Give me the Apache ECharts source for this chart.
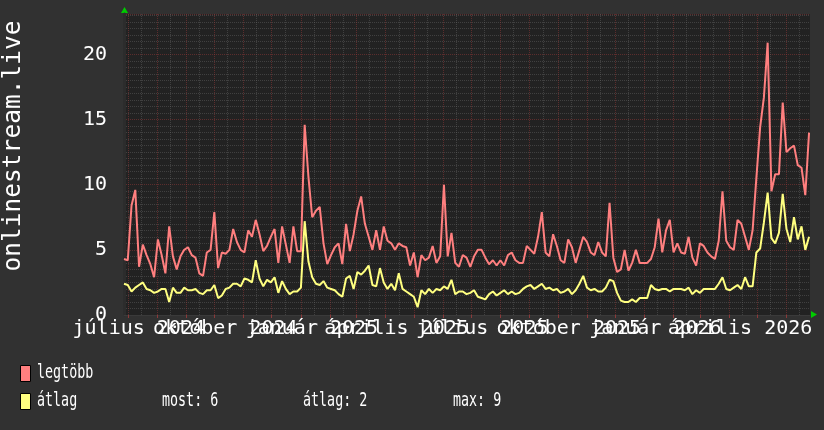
<!DOCTYPE html>
<html>
<head>
<meta charset="utf-8">
<title>onlinestream.live</title>
<script src="https://cdn.jsdelivr.net/npm/echarts@6/dist/echarts.min.js"></script>
<style>
  html, body { margin: 0; padding: 0; background: #313131; }
  #chart { width: 824px; height: 430px; }
</style>
</head>
<body>
<div id="chart"></div>
<script>
// idősor: napi kategóriák, minden 4. napra egy mért érték
const startDay = Date.UTC(2024, 5, 27);
const dayCount = 730;
const sampleStep = 4;
const monthNames = ['január', 'február', 'március', 'április', 'május', 'június',
  'július', 'augusztus', 'szeptember', 'október', 'november', 'december'];
const yTickStep = 5;
const yMax = 23.1;

// legtöbb (max)
const maxVals = [
  4.3, 4.2, 8.4, 9.6, 3.7, 5.4, 4.6, 3.9, 2.9, 5.8,
  4.6, 3.2, 6.8, 4.5, 3.5, 4.5, 5.0, 5.2, 4.6, 4.4,
  3.2, 3.0, 4.8, 5.0, 7.9, 3.6, 4.8, 4.7, 5.0, 6.6,
  5.6, 5.0, 4.8, 6.5, 6.0, 7.3, 6.2, 4.9, 5.3, 6.0,
  6.6, 4.0, 6.8, 5.4, 4.0, 6.8, 4.9, 4.9, 14.6, 10.6,
  7.5, 8.0, 8.3, 5.5, 3.9, 4.6, 5.2, 5.5, 3.9, 7.0,
  4.9, 6.2, 8.0, 9.1, 7.0, 6.0, 5.0, 6.5, 5.0, 6.8,
  5.7, 5.5, 5.0, 5.5, 5.3, 5.2, 3.8, 4.8, 2.9, 4.6,
  4.2, 4.4, 5.3, 4.0, 4.5, 10.0, 4.5, 6.3, 4.0, 3.7,
  4.6, 4.4, 3.7, 4.5, 5.0, 5.0, 4.4, 3.9, 4.2, 3.8,
  4.2, 3.8, 4.6, 4.8, 4.2, 4.0, 4.0, 5.3, 5.0, 4.7,
  6.0, 7.9, 4.8, 4.5, 6.2, 5.3, 4.2, 4.0, 5.8, 5.2,
  4.0, 5.0, 6.0, 5.6, 4.8, 4.6, 5.6, 4.8, 4.5, 8.6,
  4.4, 3.3, 3.5, 5.0, 3.4, 4.0, 5.0, 4.0, 4.0, 4.0,
  4.3, 5.2, 7.4, 4.8, 6.5, 7.3, 4.8, 5.5, 4.8, 4.7,
  6.0, 4.4, 3.8, 5.5, 5.3, 4.8, 4.5, 4.3, 5.7, 9.5,
  5.7, 5.2, 5.0, 7.3, 7.0, 6.0, 5.0, 6.5, 10.5, 14.4,
  16.7, 20.9, 9.5, 10.8, 10.8, 16.3, 12.5, 12.8, 13.0, 11.5,
  11.3, 9.2, 14.0
];

// átlag
const avgVals = [
  2.4, 2.3, 1.8, 2.1, 2.3, 2.5, 2.0, 1.9, 1.7, 1.8,
  2.0, 2.0, 1.0, 2.1, 1.7, 1.7, 2.1, 1.9, 1.9, 2.0,
  1.7, 1.6, 1.9, 1.9, 2.3, 1.3, 1.5, 2.0, 2.1, 2.4,
  2.4, 2.2, 2.8, 2.7, 2.5, 4.2, 2.8, 2.2, 2.7, 2.5,
  2.9, 1.7, 2.6, 2.0, 1.6, 1.8, 1.8, 2.1, 7.2, 4.1,
  2.9, 2.4, 2.3, 2.6, 2.1, 2.0, 1.9, 1.6, 1.4, 2.8,
  3.0, 2.0, 3.3, 3.1, 3.4, 3.8, 2.3, 2.2, 3.6, 2.5,
  2.0, 2.4, 1.9, 3.2, 2.0, 1.8, 1.6, 1.4, 0.6, 1.9,
  1.6, 2.0, 1.7, 2.0, 1.9, 2.2, 2.0, 2.7, 1.6, 1.8,
  1.8, 1.6, 1.7, 1.9, 1.4, 1.3, 1.2, 1.6, 1.8, 1.5,
  1.7, 1.9, 1.6, 1.8, 1.6, 1.7, 2.0, 2.2, 2.3, 2.0,
  2.2, 2.4, 2.0, 2.1, 1.9, 2.0, 1.7, 1.8, 2.0, 1.6,
  1.9, 2.4, 3.0, 2.1, 1.9, 2.0, 1.8, 1.8, 2.1, 2.7,
  2.6, 1.7, 1.1, 1.0, 1.0, 1.2, 1.0, 1.3, 1.3, 1.3,
  2.3, 2.0, 1.9, 2.0, 2.0, 1.8, 2.0, 2.0, 2.0, 1.9,
  2.1, 1.6, 1.9, 1.7, 2.0, 2.0, 2.0, 2.0, 2.4, 2.9,
  2.0, 1.9, 2.1, 2.3, 2.0, 2.9, 2.2, 2.2, 4.8, 5.1,
  7.1, 9.4, 5.9, 5.5, 6.3, 9.3, 6.6, 5.6, 7.5, 5.8,
  6.8, 5.0, 6.0
];

const seriesNames = ['legtöbb', 'átlag'];
const seriesColors = ['#ff7f7f', '#ffff80'];
const statTexts = ['most: 6', 'átlag: 2', 'max: 9'];

const days = [];
for (let i = 0; i < dayCount; i++) {
  days.push(new Date(startDay + i * 86400000).toISOString().slice(0, 10));
}

const isMonthStart = (i, v) => v.slice(8) === '01';
const isMidMonth = (i, v) => v.slice(8) === '15';
const isQuarterStart = v => v.slice(8) === '01' && (+v.slice(5, 7) - 1) % 3 === 0;

const toPoints = vals => vals.map((v, i) => [i * sampleStep, v]);

const monoFont = '"DejaVu Sans Mono", monospace';
const redGrid = { color: 'rgba(150, 55, 55, 0.5)', type: 'dotted', width: 1 };
const greyGrid = { color: 'rgba(110, 110, 110, 0.4)', type: 'dotted', width: 1 };

const chart = echarts.init(document.getElementById('chart'));

chart.setOption({
  backgroundColor: '#313131',
  animation: false,
  grid: {
    left: 124, right: 14, top: 14, bottom: 115,
    show: true, backgroundColor: '#222222', borderWidth: 0
  },
  xAxis: [{
    type: 'category',
    data: days,
    boundaryGap: false,
    axisLine: { show: true, lineStyle: { color: '#3a3a3a', width: 1 } },
    axisTick: { show: true, interval: isMonthStart, length: 3, lineStyle: { color: '#8a3a3a' } },
    axisLabel: {
      interval: 0,
      hideOverlap: false,
      formatter: v => isQuarterStart(v) ? monthNames[+v.slice(5, 7) - 1] + ' ' + v.slice(0, 4) : '',
      color: '#ffffff',
      fontFamily: monoFont,
      fontSize: 20,
      margin: 4,
      padding: [0, 0, 0, 22]
    },
    splitLine: { show: true, interval: isMonthStart, lineStyle: redGrid }
  }, {
    type: 'category',
    data: days,
    boundaryGap: false,
    position: 'bottom',
    axisLine: { show: false },
    axisTick: { show: false },
    axisLabel: { show: false },
    splitLine: { show: true, interval: isMidMonth, lineStyle: greyGrid }
  }],
  yAxis: {
    type: 'value',
    min: 0,
    max: yMax,
    interval: yTickStep,
    axisLine: { show: true, lineStyle: { color: '#2c2c2c', width: 3 } },
    axisTick: { show: false },
    axisLabel: { color: '#ffffff', fontFamily: monoFont, fontSize: 20, margin: 17, showMaxLabel: false },
    splitLine: { show: true, lineStyle: redGrid },
    minorTick: { show: false, splitNumber: 10 },
    minorSplitLine: { show: true, lineStyle: greyGrid }
  },
  series: [{
    name: seriesNames[0],
    type: 'line',
    data: toPoints(maxVals),
    showSymbol: false,
    symbol: 'none',
    lineStyle: { color: seriesColors[0], width: 2 },
    z: 3
  }, {
    name: seriesNames[1],
    type: 'line',
    data: toPoints(avgVals),
    showSymbol: false,
    symbol: 'none',
    lineStyle: { color: seriesColors[1], width: 2 },
    z: 4
  }],
  graphic: [
    // tengely nyilak
    { type: 'polygon', shape: { points: [[124.5, 7], [121, 13], [128, 13]] }, style: { fill: '#00cc00' } },
    { type: 'polygon', shape: { points: [[817, 314.5], [811, 311], [811, 318]] }, style: { fill: '#00cc00' } },
    // függőleges felirat
    {
      type: 'text', x: 14, y: 146, rotation: Math.PI / 2,
      style: { text: 'onlinestream.live', font: '24.5px ' + monoFont, fill: '#ffffff', textAlign: 'center', textVerticalAlign: 'middle' }
    },
    // jelmagyarázat
    { type: 'rect', shape: { x: 20.5, y: 365.5, width: 10, height: 16 }, style: { fill: seriesColors[0], stroke: '#000000', lineWidth: 1 } },
    { type: 'rect', shape: { x: 20.5, y: 393.5, width: 10, height: 16 }, style: { fill: seriesColors[1], stroke: '#000000', lineWidth: 1 } },
    { type: 'text', x: 37, y: 373, scaleX: 0.667, style: { text: seriesNames[0], font: '20px ' + monoFont, fill: '#ffffff', textVerticalAlign: 'middle' } },
    { type: 'text', x: 37, y: 401, scaleX: 0.667, style: { text: seriesNames[1], font: '20px ' + monoFont, fill: '#ffffff', textVerticalAlign: 'middle' } },
    { type: 'text', x: 162, y: 401, scaleX: 0.667, style: { text: statTexts[0], font: '20px ' + monoFont, fill: '#ffffff', textVerticalAlign: 'middle' } },
    { type: 'text', x: 303, y: 401, scaleX: 0.667, style: { text: statTexts[1], font: '20px ' + monoFont, fill: '#ffffff', textVerticalAlign: 'middle' } },
    { type: 'text', x: 453, y: 401, scaleX: 0.667, style: { text: statTexts[2], font: '20px ' + monoFont, fill: '#ffffff', textVerticalAlign: 'middle' } }
  ]
});
</script>
</body>
</html>
